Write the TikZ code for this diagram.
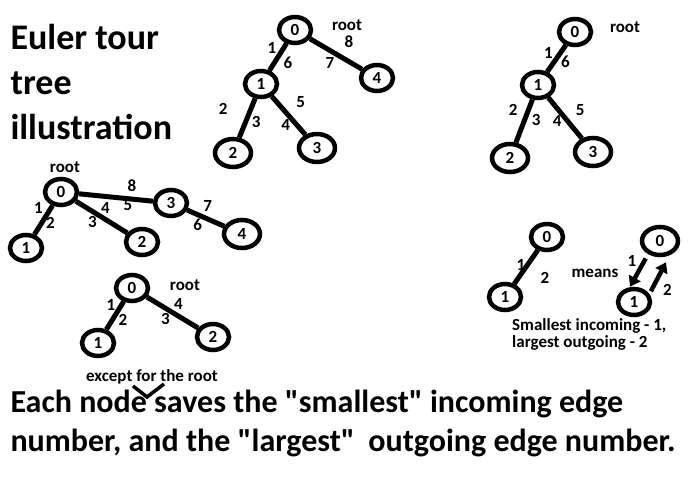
\documentclass[tikz,border=0pt]{standalone}
\usepackage{fontspec}
\setmainfont{Carlito}[Ligatures=TeXOff]
\usetikzlibrary{arrows.meta}
\usetikzlibrary{shapes.geometric}
\usetikzlibrary{positioning}
\tikzset{
	>={Triangle[length=10pt,width=13pt]},
	every node/.style={align=center},
	%
	vert/.style={draw, ellipse, line width=4.5pt, fill=white, inner sep=0pt,
		minimum width=32pt, minimum height=26pt,
		font=\fontsize{17}{17}\selectfont\bfseries},
	wide vert/.style={vert, minimum width=36pt, minimum height=28pt},
	num/.style={font=\fontsize{17}{17}\selectfont\bfseries, inner sep=0pt},
	tag/.style={num},
	%
	tree edge/.style={line width=5pt},
	arrow/.style={->, line width=4.5pt},
	caret/.style={line width=3.5pt},
}

\begin{document}
\begin{tikzpicture}[x=1pt, y=-1pt]
	\useasboundingbox (0,0) rectangle (690,477);
	\node (title) [anchor=north west, align=left,
		font=\fontsize{36}{45}\selectfont\bfseries] at (7,21)
		{Euler tour\\tree\\illustration};
	%
	% full tree
	\node (t-0) [vert] at (295,30) {0};
	\node (t-1) [vert] at (261,84) {1};
	\node (t-4) [vert] at (377,78) {4};
	\node (t-2) [wide vert] at (233,153) {2};
	\node (t-3) [wide vert] at (317,148) {3};
	\node (t-root) [tag] at (347,25) {root};
	\draw [tree edge] (t-0) -- node [num, xshift=-6pt, yshift=9pt] {1}
		node [num, xshift=10pt, yshift=-6pt] {6} (t-1);
	\draw [tree edge] (t-0) -- node [num, xshift=13pt, yshift=12pt] {8}
		node [num, xshift=-6pt, yshift=-9pt] {7} (t-4);
	\draw [tree edge] (t-1) -- node [num, xshift=-24pt, yshift=9pt] {2}
		node [num, xshift=9pt, yshift=-4pt] {3} (t-2);
	\draw [tree edge] (t-1) -- node [num, xshift=12pt, yshift=13pt] {5}
		node [num, xshift=-3pt, yshift=-9pt] {4} (t-3);
	%
	% after cutting 4
	\node (r-0) [vert] at (575,32) {0};
	\node (r-1) [vert] at (538,85) {1};
	\node (r-2) [wide vert] at (510,158) {2};
	\node (r-3) [wide vert] at (593,152) {3};
	\node (r-root) [tag] at (625,27) {root};
	\draw [tree edge] (r-0) -- node [num, xshift=-8pt, yshift=6pt] {1}
		node [num, xshift=9pt, yshift=-3pt] {6} (r-1);
	\draw [tree edge] (r-1) -- node [num, xshift=-11pt, yshift=11pt] {2}
		node [num, xshift=12pt, yshift=1pt] {3} (r-2);
	\draw [tree edge] (r-1) -- node [num, xshift=15pt, yshift=8pt] {5}
		node [num, xshift=-8pt, yshift=-3pt] {4} (r-3);
	%
	% rerooted tree
	\node (l-0) [vert] at (61,192) {0};
	\node (l-3) [vert] at (171,203) {3};
	\node (l-4) [wide vert] at (242,234) {4};
	\node (l-2) [vert] at (142,242) {2};
	\node (l-1) [vert] at (26,248) {1};
	\node (l-root) [tag] at (65,167) {root};
	\draw [tree edge] (l-0) -- node [num, xshift=16pt, yshift=12pt] {8}
		node [num, xshift=12pt, yshift=-8pt] {5} (l-3);
	\draw [tree edge] (l-0) -- node [num, xshift=4pt, yshift=9pt] {4}
		node [num, xshift=-9pt, yshift=-5pt] {3} (l-2);
	\draw [tree edge] (l-0) -- node [num, xshift=-5pt, yshift=12pt] {1}
		node [num, xshift=7pt, yshift=-3pt] {2} (l-1);
	\draw [tree edge] (l-3) -- node [num, xshift=2pt, yshift=12pt] {7}
		node [num, xshift=-8pt, yshift=-7pt] {6} (l-4);
	%
	% small tree
	\node (b-0) [vert] at (132,288) {0};
	\node (b-1) [vert] at (98,343) {1};
	\node (b-2) [vert] at (213,337) {2};
	\node (b-root) [tag] at (185,285) {root};
	\draw [tree edge] (b-0) -- node [num, xshift=-4pt, yshift=11pt] {1}
		node [num, xshift=8pt, yshift=-4pt] {2} (b-1);
	\draw [tree edge] (b-0) -- node [num, xshift=6pt, yshift=9pt] {4}
		node [num, xshift=-7pt, yshift=-6pt] {3} (b-2);
	\node (except) [num] at (152,377) {except for the root};
	\draw [caret] (133,386) -- (147,397) -- (164,384);
	%
	% legend
	\node (m-0) [vert] at (547,237) {0};
	\node (m-1) [vert] at (505,297) {1};
	\draw [tree edge] (m-0) -- node [num, xshift=-5pt, yshift=2pt] {1}
		node [num, xshift=19pt, yshift=-11pt] {2} (m-1);
	\node (means) [num] at (595,273) {means};
	\node (n-0) [wide vert] at (660,241) {0};
	\node (n-1) [vert] at (634,302) {1};
	\draw [arrow] ([yshift=-6pt]n-0.south west) --
		node [num, xshift=-6pt, yshift=12pt] {1} ([xshift=-4pt]n-1.north);
	\draw [arrow] ([xshift=4pt]n-1.north east) --
		node [num, xshift=9pt, yshift=-13pt] {2} ([xshift=6pt, yshift=-5pt]n-0.south);
	\node (rule) [num, anchor=west, align=left,
		font=\fontsize{17}{17}\selectfont\bfseries] at (512,334)
		{Smallest incoming - 1,\\largest outgoing - 2};
	%
	\node (note) [anchor=north west, align=left,
		font=\fontsize{32}{39}\selectfont\bfseries] at (7,387)
		{Each node saves the "smallest" incoming edge\\
		number, and the "largest"\hspace{0.2em} outgoing edge number.};
\end{tikzpicture}
\end{document}
